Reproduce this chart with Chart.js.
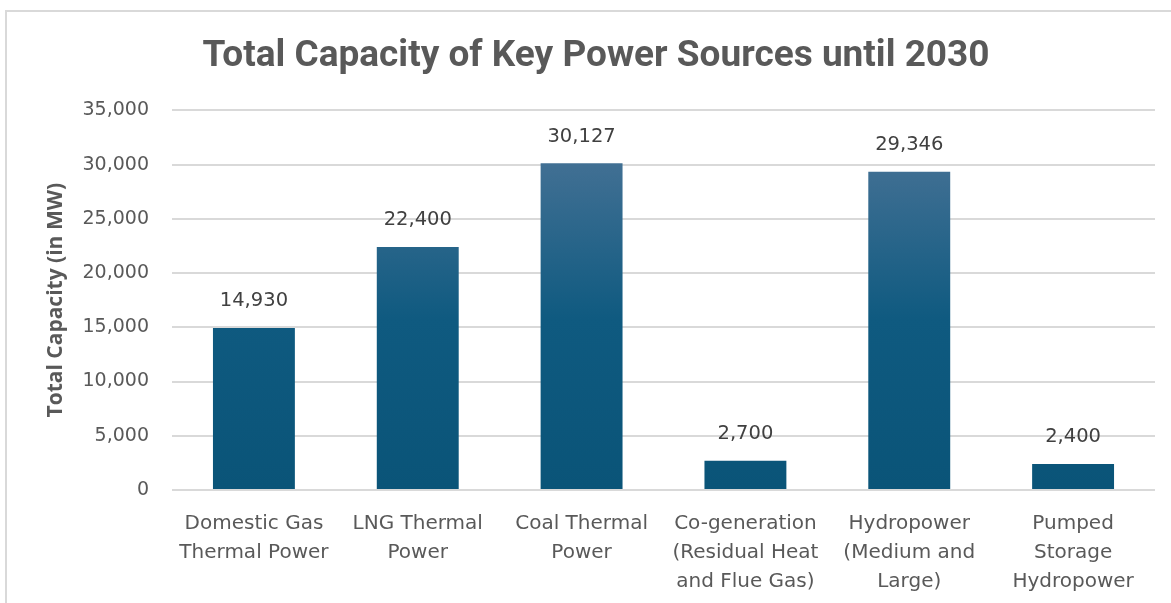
<!DOCTYPE html>
<html>
<head>
<meta charset="utf-8">
<script src="https://cdn.jsdelivr.net/npm/chart.js@4/dist/chart.umd.min.js"></script>
<style>
    html, body { margin: 0; padding: 0; background: #fff; overflow: hidden; }
    #frame {
        position: absolute; left: 5px; top: 10px;
        width: 1200px; height: 600px;
        border-top: 2px solid #d9d9d9; border-left: 2px solid #d9d9d9;
    }
    #wrap { position: absolute; left: 0; top: 0; width: 1178px; height: 591px; }
</style>
</head>
<body>
<div id="frame"><div id="wrap"><canvas id="myChart"></canvas></div></div>
<script>
    let categories = [
        ['Domestic Gas', 'Thermal Power'],
        ['LNG Thermal', 'Power'],
        ['Coal Thermal', 'Power'],
        ['Co-generation', '(Residual Heat', 'and Flue Gas)'],
        ['Hydropower', '(Medium and', 'Large)'],
        ['Pumped', 'Storage', 'Hydropower']
    ];
    let capacity = [14930, 22400, 30127, 2700, 29346, 2400];
    let yTicks = [0, 5000, 10000, 15000, 20000, 25000, 30000, 35000];

    let fmt = function (v) { return v.toLocaleString('en-US'); };
    let bodyFont = '"DejaVu Sans", sans-serif';

    // labels over bars
    let barLabels = {
        id: 'barLabels',
        afterLayout: function (chart) {
            // a bit of letter spacing on the category labels
            let xs = chart.scales.x;
            if (xs && !xs._spaced) {
                let orig = xs.draw;
                xs.draw = function (area) {
                    let ctx = this.ctx;
                    let old = ctx.letterSpacing;
                    ctx.letterSpacing = '1px';
                    orig.call(this, area);
                    ctx.letterSpacing = old;
                };
                xs._spaced = true;
            }
        },
        afterDatasetsDraw: function (chart) {
            let ctx = chart.ctx;
            let meta = chart.getDatasetMeta(0);
            ctx.save();
            ctx.font = '19.5px ' + bodyFont;
            ctx.fillStyle = '#404040';
            ctx.textAlign = 'center';
            ctx.textBaseline = 'bottom';
            meta.data.forEach(function (bar, i) {
                ctx.fillText(fmt(capacity[i]), bar.x, bar.y - 17);
            });
            ctx.restore();
        }
    };

    let barFill = function (context) {
        let area = context.chart.chartArea;
        if (!area) return '#105a80';
        let g = context.chart.ctx.createLinearGradient(0, area.top, 0, area.bottom);
        g.addColorStop(0, '#52779a');
        g.addColorStop(0.55, '#0f5a80');
        g.addColorStop(1, '#0a5478');
        return g;
    };

    let myChart = document.getElementById('myChart').getContext('2d');

    let barChart = new Chart(myChart, {
        type: 'bar',
        data: {
            labels: categories,
            datasets: [{
                label: 'Total Capacity',
                data: capacity,
                backgroundColor: barFill,
                borderWidth: 0,
                categoryPercentage: 1,
                barPercentage: 0.5
            }]
        },
        plugins: [barLabels],
        options: {
            responsive: true,
            maintainAspectRatio: false,
            animation: false,
            layout: { padding: 0 },
            plugins: {
                legend: { display: false },
                tooltip: { enabled: false },
                title: {
                    display: true,
                    text: 'Total Capacity of Key Power Sources until 2030',
                    color: '#595959',
                    font: { family: '"Roboto", sans-serif', size: 37, weight: 'bold', lineHeight: 1.2 },
                    padding: { top: 23, bottom: 31 }
                }
            },
            scales: {
                x: {
                    grid: { display: false },
                    border: { display: false },
                    ticks: {
                        color: '#595959',
                        font: { family: bodyFont, size: 20, lineHeight: 1.45 },
                        padding: 11,
                        maxRotation: 0,
                        autoSkip: false
                    },
                    afterFit: function (scale) { scale.height = 113; }
                },
                y: {
                    min: 0,
                    max: 35000,
                    afterBuildTicks: function (scale) {
                        scale.ticks = yTicks.map(function (v) { return { value: v }; });
                    },
                    grid: { color: '#d9d9d9', lineWidth: 2, drawTicks: false },
                    border: { display: false },
                    ticks: {
                        color: '#595959',
                        font: { family: bodyFont, size: 19 },
                        padding: 23,
                        callback: function (v) { return fmt(v); }
                    },
                    title: {
                        display: true,
                        text: 'Total Capacity (in MW)',
                        color: '#595959',
                        font: { family: '"Open Sans", sans-serif', size: 21, weight: 'bold', lineHeight: 1.2 },
                        padding: { top: 36, bottom: 0 }
                    },
                    afterFit: function (scale) { scale.width = 165; }
                },
                // empty axis on the right, only keeps the margin
                yRight: {
                    position: 'right',
                    min: 0,
                    max: 35000,
                    grid: { display: false },
                    border: { display: false },
                    ticks: { display: false },
                    afterFit: function (scale) { scale.width = 30; }
                }
            }
        }
    });
</script>
</body>
</html>
